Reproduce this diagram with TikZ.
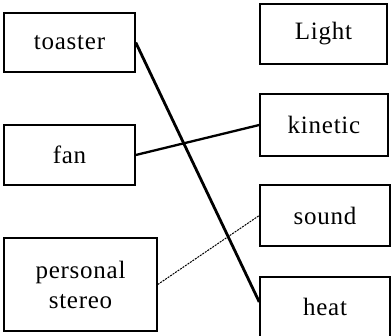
\documentclass[tikz,border=0pt]{standalone}
\usepackage{fontspec}
\setmainfont[LetterSpace=3]{Liberation Serif}
\begin{document}
\begin{tikzpicture}[x=1pt,y=-1pt,
  box/.style={draw, line width=1.5pt, rectangle, inner sep=0pt, align=center,
    font=\fontsize{25}{30}\selectfont},
  link/.style={line width=2.8pt},
  thinlink/.style={line width=1pt, dash pattern=on 2pt off 1pt}]
\useasboundingbox (0,0) rectangle (391,336);
% devices on the left
\node[box, minimum width=131pt, minimum height=59pt] (toaster) at (69.5,42.5) {toaster};
\node[box, minimum width=131pt, minimum height=60pt] (fan) at (69.5,155) {fan};
\node[box, minimum width=153pt, minimum height=93pt] (stereo) at (80.5,284.5) {personal\\stereo};
% forms of energy on the right
\node[box, minimum width=127pt, minimum height=60pt] (light) at (323.5,34) {Light};
\node[box, minimum width=128pt, minimum height=62pt] (kinetic) at (324,125) {kinetic};
\node[box, minimum width=130pt, minimum height=61pt] (sound) at (325,215.5) {sound};
\node[box, minimum width=130pt, minimum height=60pt] (heat) at (325,307) {heat};
% connections
\coordinate (heatin) at ([yshift=5pt]heat.west);
\draw[link] (toaster.east) -- (heatin);
\draw[link, line width=2.3pt] (fan.east) -- (kinetic.west);
\draw[thinlink] (stereo.east) -- (sound.west);
\end{tikzpicture}
\end{document}
